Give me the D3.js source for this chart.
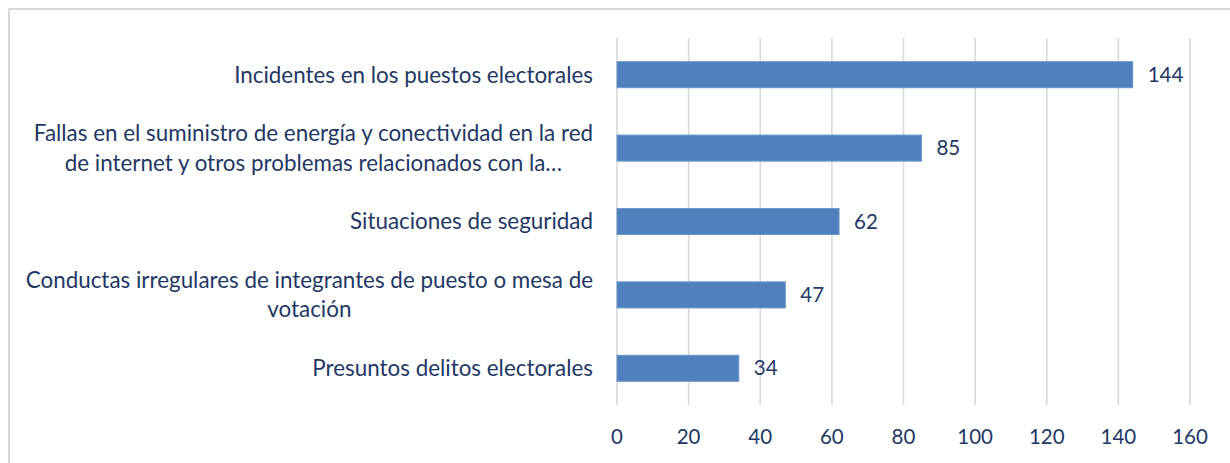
<!DOCTYPE html>
<html>
<head>
<meta charset="utf-8">
<script src="https://cdn.jsdelivr.net/npm/d3@7"></script>
<style>
  html, body { margin: 0; padding: 0; background: #fff; }
  svg { display: block; }
</style>
</head>
<body>
<svg id="chart" width="1230" height="463"></svg>
<script>
// categories, top to bottom, with the line breaks the chart shows
const categories = [
    ["Incidentes en los puestos electorales"],
    ["Fallas en el suministro de energía y conectividad en la red", "de internet y otros problemas relacionados con la…"],
    ["Situaciones de seguridad"],
    ["Conductas irregulares de integrantes de puesto o mesa de", "votación"],
    ["Presuntos delitos electorales"]
];
const values = [144, 85, 62, 47, 34];
const xTicks = [0, 20, 40, 60, 80, 100, 120, 140, 160];

const textColor = "#1F3864";
const font = "Lato, 'Open Sans', sans-serif";

const svg = d3.select("#chart");

// chart frame
svg.append("rect")
    .attr("x", 9).attr("y", 9)
    .attr("width", 1240).attr("height", 470)
    .attr("fill", "#fff")
    .attr("stroke", "#D9D9D9")
    .attr("stroke-width", 2);

const x = d3.scaleLinear().domain([0, 160]).range([617, 1190]);
const keys = categories.map((c, i) => i);
const y = d3.scaleBand().domain(keys).range([38, 405])
    .paddingInner(0.645).paddingOuter(0.3225);

// gridlines
svg.append("g")
    .selectAll("line")
    .data(xTicks)
    .join("line")
    .attr("x1", d => x(d)).attr("x2", d => x(d))
    .attr("y1", 38).attr("y2", 405)
    .attr("stroke", "#D9D9D9")
    .attr("stroke-width", 1.6);

// x tick labels
svg.append("g")
    .selectAll("text")
    .data(xTicks)
    .join("text")
    .attr("x", d => x(d))
    .attr("y", 437)
    .attr("dy", "0.35em")
    .attr("text-anchor", "middle")
    .attr("font-family", font)
    .attr("font-size", 20.5)
    .attr("fill", textColor)
    .text(d => d);

// bars
svg.append("g")
    .selectAll("rect")
    .data(values)
    .join("rect")
    .attr("x", x(0))
    .attr("y", (d, i) => y(i))
    .attr("width", d => x(d) - x(0))
    .attr("height", y.bandwidth())
    .attr("fill", "#4F81BD")
    .attr("stroke", "#6A96CC")
    .attr("stroke-width", 1);

// value labels
svg.append("g")
    .selectAll("text")
    .data(values)
    .join("text")
    .attr("x", d => x(d) + 15)
    .attr("y", (d, i) => y(i) + y.bandwidth() / 2)
    .attr("dy", "0.35em")
    .attr("font-family", font)
    .attr("font-size", 20.5)
    .attr("fill", textColor)
    .text(d => d);

// category labels: block right-aligned to 593, lines centred on each other
const lineH = 29.5;
const catG = svg.append("g");
categories.forEach((lines, i) => {
    const cy = y(i) + y.bandwidth() / 2;
    const g = catG.append("g");
    const texts = lines.map((t, j) => g.append("text")
        .attr("y", cy + (j - (lines.length - 1) / 2) * lineH)
        .attr("dy", "0.35em")
        .attr("text-anchor", "middle")
        .attr("font-family", font)
        .attr("font-size", 22.4)
        .attr("fill", textColor)
        .text(t));
    const w = d3.max(texts, t => t.node().getComputedTextLength());
    texts.forEach(t => t.attr("x", 593 - w / 2));
});
</script>
</body>
</html>
